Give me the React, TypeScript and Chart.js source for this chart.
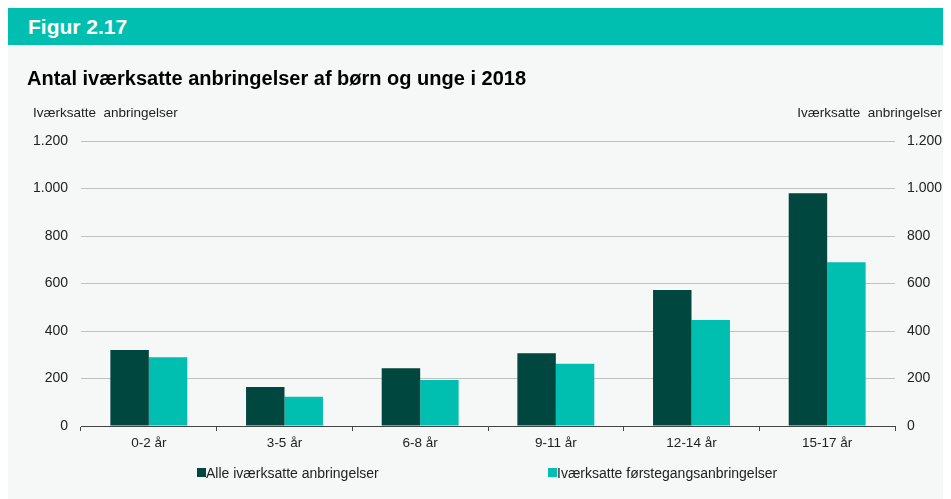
import React, { useEffect, useRef } from "react";
import { Chart, registerables } from "chart.js";

Chart.register(...registerables);

const categories = ["0-2 år", "3-5 år", "6-8 år", "9-11 år", "12-14 år", "15-17 år"];
const allePlacements = [320, 164, 243, 306, 573, 980];
const firstPlacements = [289, 123, 194, 262, 446, 689];
const seriesNames = ["Alle iværksatte anbringelser", "Iværksatte førstegangsanbringelser"];
const yTicks = [0, 200, 400, 600, 800, 1000, 1200];

const DARK = "#00473f";
const TEAL = "#00bfb0";
const FONT = "'Liberation Sans', Arial, sans-serif";

const fmt = (v: number) => v.toLocaleString("de-DE");

export default function App() {
  const ref = useRef<HTMLCanvasElement | null>(null);

  useEffect(() => {
    if (!ref.current) return;
    const chart = new Chart(ref.current, {
      type: "bar",
      data: {
        labels: categories,
        datasets: [
          { label: seriesNames[0], data: allePlacements, backgroundColor: DARK, yAxisID: "y" },
          { label: seriesNames[1], data: firstPlacements, backgroundColor: TEAL, yAxisID: "y" },
        ],
      },
      options: {
        responsive: false,
        animation: false,
        devicePixelRatio: 1,
        layout: { padding: { top: 133, left: 0, right: 0, bottom: 0 } },
        datasets: { bar: { categoryPercentage: 0.567, barPercentage: 1.0 } },
        plugins: { legend: { display: false }, title: { display: false }, tooltip: { enabled: false } },
        scales: {
          x: {
            grid: { offset: true, drawOnChartArea: false, drawTicks: true, tickLength: 5, color: "#444" },
            border: { display: true, color: "#444", width: 1 },
            ticks: { font: { family: FONT, size: 13.5 }, color: "#222", padding: 4 },
            afterFit: (s: any) => { s.height = 73; },
          },
          y: {
            position: "left",
            min: 0,
            max: 1200,
            afterBuildTicks: (s: any) => { s.ticks = yTicks.map((v) => ({ value: v })); },
            grid: { color: "#c0c0c0", lineWidth: 1, drawTicks: false },
            border: { display: false },
            ticks: { font: { family: FONT, size: 14 }, color: "#222", padding: 13, callback: (v: any) => fmt(Number(v)) },
            afterFit: (s: any) => { s.width = 73; },
          },
          y2: {
            position: "right",
            min: 0,
            max: 1200,
            afterBuildTicks: (s: any) => { s.ticks = yTicks.map((v) => ({ value: v })); },
            grid: { display: false, drawTicks: false },
            border: { display: false },
            ticks: { font: { family: FONT, size: 14 }, color: "#222", padding: 12, callback: (v: any) => fmt(Number(v)) },
            afterFit: (s: any) => { s.width = 56; },
          },
        },
      } as any,
    });
    return () => chart.destroy();
  }, []);

  const abs = (o: React.CSSProperties): React.CSSProperties => ({ position: "absolute", whiteSpace: "pre", ...o });

  return (
    <div style={{ position: "relative", width: 943, height: 491, background: "#f6f7f7", fontFamily: FONT, overflow: "hidden" }}>
      <canvas ref={ref} width={943} height={491} style={{ position: "absolute", left: 0, top: 0, width: 943, height: 491 }} />
      <div style={abs({ left: 0, top: 0, width: 943, height: 37, background: TEAL })} />
      <div style={abs({ left: 20, top: 0, height: 37, lineHeight: "37px", color: "#fff", fontWeight: "bold", fontSize: 21 })}>Figur 2.17</div>
      <div style={abs({ left: 19, top: 59, lineHeight: "22px", color: "#000", fontWeight: "bold", fontSize: 20 })}>
        Antal iværksatte anbringelser af børn og unge i 2018
      </div>
      <div style={abs({ left: 25, top: 97, lineHeight: "15px", color: "#222", fontSize: 13.5 })}>Iværksatte  anbringelser</div>
      <div style={abs({ right: 9, top: 97, lineHeight: "15px", color: "#222", fontSize: 13.5 })}>Iværksatte  anbringelser</div>
      <div style={abs({ left: 189, top: 460, width: 9, height: 9, background: DARK })} />
      <div style={abs({ left: 198, top: 457, lineHeight: "16px", color: "#222", fontSize: 14 })}>{seriesNames[0]}</div>
      <div style={abs({ left: 540, top: 460, width: 9, height: 9, background: TEAL })} />
      <div style={abs({ left: 549, top: 457, lineHeight: "16px", color: "#222", fontSize: 14 })}>{seriesNames[1]}</div>
    </div>
  );
}
